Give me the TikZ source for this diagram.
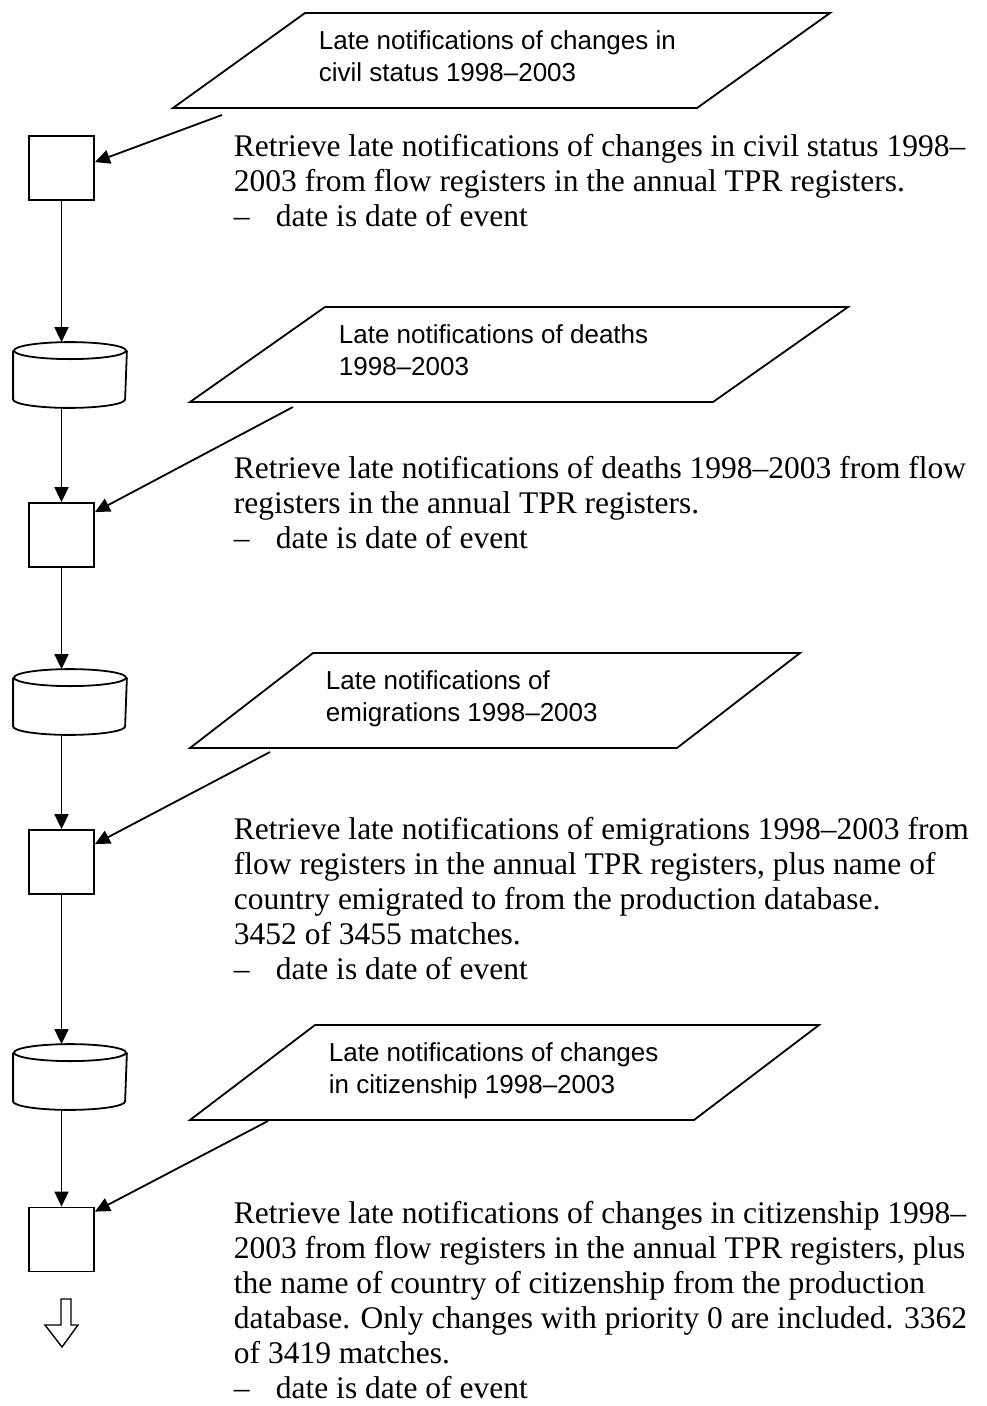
\documentclass[tikz,border=0pt]{standalone}
\usepackage{fontspec}
\setmainfont{Liberation Serif}
\newfontfamily\parafont[Ligatures=TeX]{Liberation Sans}
\usepackage{tikz}
\usetikzlibrary{arrows.meta}
\usetikzlibrary{positioning}

% outline of a data store, drawn over its (invisible) node
\newcommand{\drawstore}[1]{%
\draw ([yshift=-8.5pt]#1.north) ellipse [x radius=56pt, y radius=8.5pt];
\draw ([yshift=-8.5pt]#1.north west) -- ([yshift=8.5pt]#1.south west)
  arc [start angle=180, end angle=360, x radius=56pt, y radius=8.5pt]
  -- ([yshift=-8.5pt]#1.north east);}

\begin{document}
\begin{tikzpicture}[x=1pt, y=-1pt, line width=1.8pt,
  proc/.style={draw, rectangle, minimum width=65pt, minimum height=64pt, inner sep=0pt},
  store/.style={rectangle, minimum width=112pt, minimum height=64pt, inner sep=0pt},
  flow/.style={-{Triangle[length=15pt, width=14pt]}},
  datatext/.style={font=\parafont\fontsize{26}{32}\selectfont, align=left, anchor=north west, inner sep=0pt},
  steptext/.style={font=\fontsize{31.5}{35}\selectfont, align=left, anchor=north west, inner sep=0pt}]

\useasboundingbox (0,0) rectangle (987,1406);

% left column
\node[proc] (box1) at (61.5,168) {};
\node[store] (db1) at (70,375) {};
\node[proc] (box2) at (61.5,535) {};
\node[store] (db2) at (70,702) {};
\node[proc] (box3) at (61.5,862) {};
\node[store] (db3) at (70,1077) {};
\node[proc] (box4) at (61.5,1239.5) {};
\drawstore{db1}
\drawstore{db2}
\drawstore{db3}

\draw[flow] (box1.south) -- (box1.south |- db1.north);
\draw[flow] (box2.north |- db1.south) -- (box2.north);
\draw[flow] (box2.south) -- (box2.south |- db2.north);
\draw[flow] (box3.north |- db2.south) -- (box3.north);
\draw[flow] (box3.south) -- (box3.south |- db3.north);
\draw[flow] (box4.north |- db3.south) -- (box4.north);

% hollow arrow at the end
\draw[line width=1.4pt] (61,1299) -- (71,1299) -- (71,1325) -- (78,1325) -- (62,1347)
  -- (45,1325) -- (61,1325) -- cycle;

% input data
\draw (173,108) -- (305,13) -- (830,13) -- (697,108) -- cycle;
\node[datatext] (in1) at (318,30) {Late notifications of changes in\\civil status 1998--2003};
\coordinate (src1) at (222,115);

\draw (190,402) -- (325,307) -- (848,307) -- (713,402) -- cycle;
\node[datatext] (in2) at (338,324) {Late notifications of deaths\\1998--2003};
\coordinate (src2) at (293,407);

\draw (190,748) -- (313,653) -- (800,653) -- (677,748) -- cycle;
\node[datatext] (in3) at (325,670) {Late notifications of\\emigrations 1998--2003};
\coordinate (src3) at (270,752);

\draw (190,1120) -- (315,1025) -- (819,1025) -- (694,1120) -- cycle;
\node[datatext] (in4) at (328,1042) {Late notifications of changes\\in citizenship 1998--2003};
\coordinate (src4) at (268,1121);

\draw[flow] (src1) -- ([yshift=-27pt]box1.north east);
\draw[flow] (src2) -- ([yshift=-10pt]box2.north east);
\draw[flow] (src3) -- ([yshift=-15pt]box3.north east);
\draw[flow] (src4) -- ([yshift=-5pt]box4.north east);

% step descriptions
\node[steptext] (txt1) at (233,133.5) {Retrieve late notifications of changes in civil status 1998--\\
2003 from flow registers in the annual TPR registers.\\
\makebox[42pt][l]{--}date is date of event};
\node[steptext] (txt2) at (233,455.5) {Retrieve late notifications of deaths 1998--2003 from flow\\
registers in the annual TPR registers.\\
\makebox[42pt][l]{--}date is date of event};
\node[steptext] (txt3) at (233,816.5) {Retrieve late notifications of emigrations 1998--2003 from\\
flow registers in the annual TPR registers, plus name of\\
country emigrated to from the production database.\\
3452 of 3455 matches.\\
\makebox[42pt][l]{--}date is date of event};
\node[steptext] (txt4) at (233,1200) {Retrieve late notifications of changes in citizenship 1998--\\
2003 from flow registers in the annual TPR registers, plus\\
the name of country of citizenship from the production\\
database. Only changes with priority 0 are included. 3362\\
of 3419 matches.\\
\makebox[42pt][l]{--}date is date of event};

\end{tikzpicture}
\end{document}
